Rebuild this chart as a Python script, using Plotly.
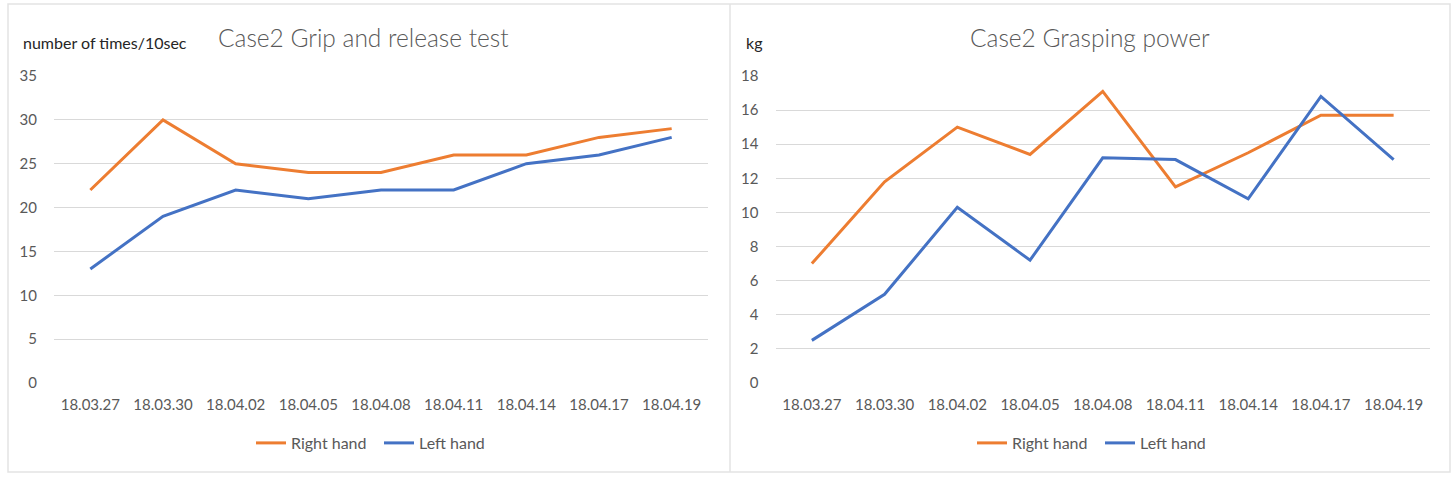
import plotly.graph_objects as go

W, H = 1452, 479

dates = ["18.03.27", "18.03.30", "18.04.02", "18.04.05", "18.04.08",
         "18.04.11", "18.04.14", "18.04.17", "18.04.19"]

grip_right = [22, 30, 25, 24, 24, 26, 26, 28, 29]
grip_left = [13, 19, 22, 21, 22, 22, 25, 26, 28]

power_right = [7.0, 11.8, 15.0, 13.4, 17.1, 11.5, 13.5, 15.7, 15.7]
power_left = [2.5, 5.2, 10.3, 7.2, 13.2, 13.1, 10.8, 16.8, 13.1]

ORANGE = "#ED7D31"
BLUE = "#4472C4"
GRID = "#D9D9D9"
TXT = "#595959"
FONT = "Lato"

def px(x):
    return x / W

def py(y):
    return 1 - y / H

fig = go.Figure()

fig.add_trace(go.Scatter(x=dates, y=grip_right, name="Right hand", mode="lines",
                         line=dict(color=ORANGE, width=3), xaxis="x", yaxis="y",
                         legend="legend"))
fig.add_trace(go.Scatter(x=dates, y=grip_left, name="Left hand", mode="lines",
                         line=dict(color=BLUE, width=3), xaxis="x", yaxis="y",
                         legend="legend"))
fig.add_trace(go.Scatter(x=dates, y=power_right, name="Right hand", mode="lines",
                         line=dict(color=ORANGE, width=3), xaxis="x2", yaxis="y2",
                         legend="legend2"))
fig.add_trace(go.Scatter(x=dates, y=power_left, name="Left hand", mode="lines",
                         line=dict(color=BLUE, width=3), xaxis="x2", yaxis="y2",
                         legend="legend2"))

xcommon = dict(type="category", range=[-0.5, 8.5], showgrid=False, zeroline=False,
               showline=False, ticks="", ticklabelstandoff=11, automargin=False,
               tickfont=dict(family=FONT, size=15, color=TXT), fixedrange=True)
ycommon = dict(showgrid=True, gridcolor=GRID, gridwidth=1, zeroline=False,
               showline=False, ticks="", ticklabelstandoff=16, automargin=False,
               tickfont=dict(family=FONT, size=15, color=TXT), fixedrange=True)

ydom = [py(383), py(76)]

legfont = dict(family=FONT, size=16, color=TXT)

fig.update_layout(
    width=W, height=H,
    autosize=False,
    margin=dict(l=0, r=0, t=0, b=0, pad=0, autoexpand=False),
    paper_bgcolor="white", plot_bgcolor="white",
    xaxis=dict(domain=[px(54), px(708)], anchor="y", **xcommon),
    yaxis=dict(domain=ydom, anchor="x", range=[0, 35], dtick=5, **ycommon),
    xaxis2=dict(domain=[px(775.5), px(1430)], anchor="y2", **xcommon),
    yaxis2=dict(domain=ydom, anchor="x2", range=[0, 18], dtick=2, **ycommon),
    legend=dict(orientation="h", x=px(251), y=py(443), xanchor="left", yanchor="middle",
                font=legfont, bgcolor="rgba(0,0,0,0)",
                entrywidth=83, entrywidthmode="pixels"),
    legend2=dict(orientation="h", x=px(972), y=py(443), xanchor="left", yanchor="middle",
                 font=legfont, bgcolor="rgba(0,0,0,0)",
                 entrywidth=83, entrywidthmode="pixels"),
    showlegend=True,
    shapes=[
        dict(type="rect", xref="paper", yref="paper", x0=px(8), x1=px(1450),
             y0=py(472), y1=py(4), line=dict(color="#E3E3E3", width=1.5)),
        dict(type="line", xref="paper", yref="paper", x0=px(730), x1=px(730),
             y0=py(472), y1=py(4), line=dict(color="#E3E3E3", width=1.5)),
    ],
    annotations=[
        dict(text="Case2 Grip and release test", xref="paper", yref="paper",
             x=px(363), y=py(37), xanchor="center", yanchor="middle", showarrow=False,
             font=dict(family=FONT, size=24.5, color=TXT, weight=300)),
        dict(text="number of times/10sec", xref="paper", yref="paper",
             x=px(21), y=py(43), xanchor="left", yanchor="middle", showarrow=False,
             font=dict(family=FONT, size=16, color="#262626")),
        dict(text="Case2 Grasping power", xref="paper", yref="paper",
             x=px(1090), y=py(37), xanchor="center", yanchor="middle", showarrow=False,
             font=dict(family=FONT, size=24.5, color=TXT, weight=300)),
        dict(text="kg", xref="paper", yref="paper",
             x=px(744), y=py(43), xanchor="left", yanchor="middle", showarrow=False,
             font=dict(family=FONT, size=16, color="#262626")),
    ],
)

fig.write_html("out.html")
